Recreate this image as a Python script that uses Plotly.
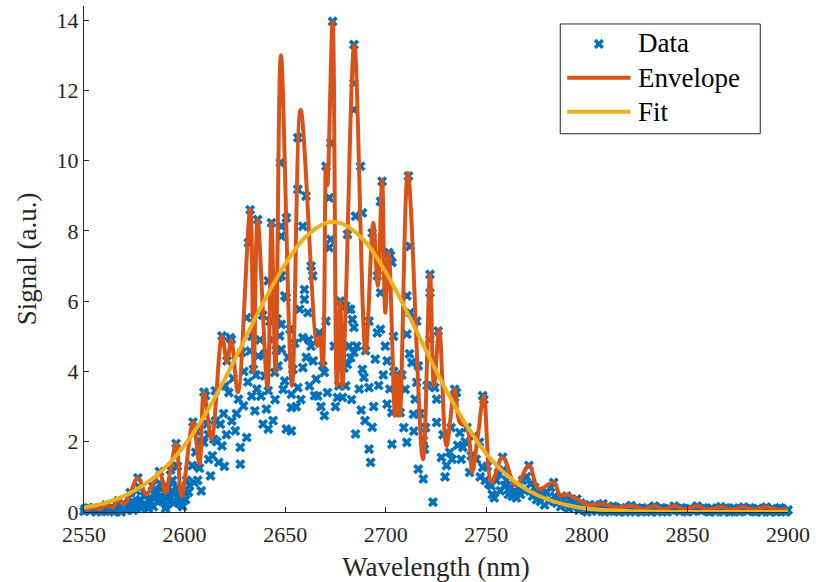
import plotly.graph_objects as go

# ---- measured spectrum: (wavelength nm, signal a.u.) ----
rise = [
    (2550, 0.02), (2550.5, 0.1), (2551, 0.05), (2552, 0.12), (2553, 0.03), (2554, 0.08),
    (2555, 0.12), (2556, 0.0), (2557, 0.06), (2558, 0.08), (2559, 0.02), (2560, 0.15),
    (2560.5, 0.02), (2561, 0.2), (2562, 0.05), (2562.5, 0.08), (2563, 0.1), (2564, 0.12),
    (2564.5, 0.04), (2565, 0.0), (2566, 0.25), (2566.5, 0.1), (2567, 0.32), (2568, 0.1),
    (2568.5, 0.0), (2569, 0.18), (2570, 0.22), (2570.5, 0.12), (2571, 0.05), (2572, 0.4),
    (2572.5, 0.2), (2573, 0.55), (2574, 0.3), (2574.5, 0.05), (2575, 0.15), (2576, 0.6),
    (2576.5, 0.3), (2576.8, 0.97), (2577.5, 0.7), (2578, 0.35), (2578.5, 0.1), (2579, 0.2),
    (2580, 0.45), (2580.5, 0.2), (2581, 0.5), (2582, 0.1), (2582.5, 0.35), (2583, 0.3),
    (2584, 0.75), (2584.5, 0.15), (2585, 0.4), (2585.5, 0.5), (2586, 0.6), (2586.5, 0.3),
    (2587.5, 1.15), (2588, 0.8), (2588.5, 0.45), (2589, 0.3), (2589.5, 0.7), (2590, 0.55),
    (2590.5, 0.1), (2591, 0.2), (2591.5, 0.4), (2592, 0.7), (2592.5, 0.3), (2593, 1.2),
    (2593.5, 0.6), (2594, 0.9), (2594.5, 0.25), (2595, 0.5), (2595.8, 1.95), (2596, 0.7),
    (2596.5, 1.3), (2597, 0.3), (2597.5, 0.45), (2598, 0.45), (2598.5, 0.2), (2599, 0.15),
    (2600, 0.6), (2600.5, 0.35), (2601, 0.9), (2602, 0.56), (2602.5, 0.75),
]

core = [
    (2603.8, 1.32), (2604.2, 2.56), (2604.7, 0.84), (2605.5, 1.7), (2606.0, 2.3),
    (2606.5, 0.9), (2607.4, 1.25), (2608.0, 2.0), (2608.3, 0.6), (2609.6, 1.98),
    (2609.6, 3.41), (2610.4, 3.31), (2611.2, 2.5), (2611.8, 2.2), (2612.0, 1.5),
    (2612.9, 1.03), (2613.8, 1.6), (2614.5, 2.07), (2615.3, 3.45), (2615.3, 2.59),
    (2616.0, 2.0), (2617.0, 1.41), (2617.8, 2.5), (2618.6, 1.88), (2618.6, 5.01),
    (2619.4, 2.8), (2619.8, 1.3), (2620.2, 3.59), (2620.8, 2.2), (2621.1, 4.3),
    (2622.0, 3.4), (2622.7, 4.96), (2623.2, 4.91), (2623.5, 2.59), (2624.2, 3.8),
    (2625.2, 2.31), (2625.8, 2.8), (2626.8, 3.21), (2627.7, 1.84), (2627.7, 1.36),
    (2628.4, 4.54), (2629.3, 3.02), (2629.5, 4.0), (2630.9, 2.12), (2630.9, 5.53),
    (2631.5, 3.7), (2631.7, 7.66), (2632.6, 8.6), (2632.6, 4.58), (2633.4, 3.3),
    (2633.5, 5.0), (2634.2, 4.06), (2635.0, 2.88), (2635.5, 3.9), (2636.0, 3.5),
    (2636.3, 8.32), (2636.6, 4.44), (2637.5, 4.9), (2638.0, 3.3), (2638.8, 5.6),
    (2639.0, 2.5), (2639.9, 3.87), (2640.0, 4.5), (2640.7, 2.93), (2641.6, 6.58),
    (2641.6, 3.45), (2641.6, 2.36), (2642.4, 5.43), (2643.2, 8.23), (2643.8, 4.9),
    (2644.0, 2.6), (2644.8, 3.97), (2645.0, 3.2), (2645.6, 4.6), (2646.0, 5.5),
    (2646.5, 6.67), (2646.5, 4.16), (2647.3, 5.01), (2647.6, 9.94), (2648.1, 8.13),
    (2648.1, 7.85), (2648.1, 6.72), (2648.1, 5.34), (2648.1, 4.63), (2649.0, 3.49),
    (2649.8, 6.15), (2649.8, 3.73), (2650.6, 8.37), (2650.6, 6.1), (2650.6, 2.36),
    (2651.5, 4.4), (2652.5, 5.2), (2653.1, 3.35), (2653.1, 2.97), (2653.1, 2.31),
    (2653.9, 4.06), (2654.8, 4.8), (2655.5, 3.0), (2656.3, 10.65), (2656.3, 9.18),
    (2656.3, 3.54), (2657.2, 5.77), (2657.8, 3.2), (2658.8, 8.13), (2658.8, 4.96),
    (2658.8, 4.11), (2659.6, 6.33), (2659.6, 6.05), (2660.4, 8.99), (2660.5, 4.4),
    (2661.3, 5.67), (2661.8, 4.9), (2662.1, 3.59), (2662.9, 7.0), (2662.9, 4.72),
    (2663.7, 6.72), (2664.0, 4.3), (2664.6, 3.31), (2665.4, 3.78), (2666.2, 3.3),
    (2667.0, 5.1), (2667.8, 3.0), (2668.7, 4.16), (2669.5, 3.97), (2669.5, 2.74),
    (2670.3, 9.84), (2670.3, 5.43), (2671.0, 3.4), (2671.9, 8.94), (2671.9, 7.52),
    (2672.7, 10.5), (2672.7, 7.76), (2673.6, 13.96), (2674.4, 4.72), (2675.0, 3.0),
    (2676.0, 3.26), (2676.7, 3.59), (2677.4, 6.0), (2677.9, 4.6), (2678.5, 3.26),
    (2679.3, 4.1), (2680.1, 5.86), (2680.1, 3.59), (2681.0, 7.9), (2681.0, 4.2),
    (2681.8, 5.77), (2681.8, 4.72), (2682.6, 5.77), (2682.6, 4.39), (2683.0, 3.2),
    (2683.4, 5.48), (2684.2, 13.3), (2684.2, 12.2), (2684.2, 11.45), (2684.2, 5.25),
    (2684.2, 4.54), (2685.0, 8.42), (2685.0, 2.22), (2685.6, 4.72), (2686.8, 3.5),
    (2687.5, 9.84), (2687.8, 2.9), (2688.4, 8.51), (2688.4, 4.06), (2689.2, 3.83),
    (2689.7, 2.6), (2690.0, 4.59), (2691.7, 5.43), (2691.7, 3.54), (2691.7, 1.79),
    (2692.5, 1.41), (2693.3, 7.94), (2693.3, 2.41), (2694.0, 3.0), (2694.8, 4.35),
    (2695.8, 6.72), (2695.8, 5.1), (2696.5, 3.6), (2697.4, 8.84), (2697.4, 6.24),
    (2697.4, 5.2), (2698.2, 9.41), (2698.8, 3.9), (2699.8, 4.72), (2700.7, 4.3),
    (2700.7, 3.07), (2701.5, 7.38), (2701.5, 6.43), (2702.0, 3.5), (2702.3, 7.3),
    (2703.1, 7.1), (2703.1, 2.83), (2703.1, 1.93), (2703.9, 5.0), (2704.0, 4.0),
    (2705.6, 3.9), (2706.0, 3.3), (2707.2, 2.83), (2708.0, 3.9), (2709.0, 2.4),
    (2709.7, 3.49), (2710.5, 6.15), (2710.5, 5.06), (2710.5, 1.98), (2711.3, 9.56),
    (2711.8, 4.5), (2712.1, 7.56), (2712.1, 5.67), (2713.0, 4.25), (2713.8, 2.78),
    (2714.0, 2.3), (2714.6, 3.21), (2715.4, 5.43), (2715.4, 3.69), (2716.2, 4.16),
    (2716.2, 1.22), (2717.0, 2.8), (2718.7, 2.03), (2718.7, 0.94), (2719.3, 1.79),
    (2719.8, 2.4), (2720.6, 3.6), (2722.0, 6.76), (2722.0, 6.24), (2722.0, 4.91),
    (2723.5, 0.28), (2724.4, 3.54), (2725.3, 3.21), (2725.3, 2.55), (2726.1, 5.15),
    (2727.7, 1.55), (2728.5, 2.2), (2729.5, 1.0), (2730.2, 1.32), (2731.8, 1.7),
    (2732.5, 2.4), (2733.0, 1.5), (2734.3, 3.49), (2734.3, 3.26), (2735.1, 3.4),
    (2735.8, 1.9), (2736.8, 2.26), (2737.5, 1.5), (2738.4, 1.84), (2739.5, 2.0),
    (2740.4, 2.4), (2741.7, 1.13), (2742.5, 1.6), (2744.1, 2.17), (2745.0, 1.5),
    (2746.6, 1.98), (2747.0, 1.0), (2748.2, 3.31), (2748.2, 1.27), (2748.8, 3.2),
    (2749.5, 0.9), (2750.5, 1.3), (2751.2, 0.8),
]

tail = [
    (2752.4, 0.75), (2753, 0.5), (2754, 0.4), (2755, 0.9), (2756, 1.1), (2757, 0.6),
    (2758.1, 1.56), (2758.5, 1.2), (2759, 0.75), (2760, 0.9), (2761, 0.5), (2762, 0.7),
    (2763, 0.45), (2764, 0.6), (2765, 0.4), (2766, 0.7), (2767, 0.5), (2768, 0.9),
    (2769, 0.6), (2770, 1.0), (2771.2, 1.32), (2772, 0.8), (2773, 0.45), (2774, 0.7),
    (2775, 0.35), (2776, 0.55), (2777, 0.3), (2778, 0.5), (2779, 0.2), (2780, 0.55),
    (2781, 0.3), (2782, 0.7), (2783.5, 0.84), (2784, 0.45), (2785, 0.25), (2786, 0.4),
    (2787, 0.15), (2788, 0.35), (2789, 0.2), (2790, 0.45), (2791, 0.1), (2792, 0.3),
    (2793, 0.15), (2794, 0.25), (2795, 0.37), (2796, 0.05), (2797, 0.25), (2798, 0.1),
    (2799, 0.2), (2800, 0.0), (2801, 0.18), (2802, 0.05), (2803, 0.12), (2804, 0.2),
    (2805, 0.02), (2806, 0.15), (2807, 0.08), (2808, 0.23), (2809, 0.0), (2810, 0.12),
    (2811, 0.02), (2812, 0.05), (2813, 0.16), (2814, 0.14), (2815, 0.03), (2816, 0.0),
    (2817, 0.12), (2818, 0.1), (2819, 0.0), (2820, 0.04), (2821, 0.13), (2822, 0.18),
    (2823, 0.05), (2824, 0.0), (2825, 0.12), (2826, 0.1), (2827, 0.0), (2828, 0.03),
    (2829, 0.08), (2830, 0.12), (2831, 0.04), (2832, 0.0), (2833, 0.1), (2833.6, 0.17),
    (2835, 0.0), (2836, 0.05), (2837, 0.12), (2838, 0.1), (2839, 0.03), (2840, 0.0),
    (2841, 0.1), (2842, 0.08), (2843.5, 0.17), (2844.5, 0.05), (2846, 0.02), (2847, 0.12),
    (2848, 0.1), (2849, 0.03), (2850, 0.0), (2851, 0.1), (2852, 0.08), (2853, 0.02),
    (2854.8, 0.17), (2856, 0.06), (2857, 0.03), (2858, 0.12), (2859, 0.1), (2860, 0.02),
    (2861, 0.0), (2862, 0.11), (2863, 0.07), (2864, 0.0), (2865, 0.1), (2866.6, 0.15),
    (2867, 0.05), (2868, 0.0), (2869, 0.12), (2870, 0.1), (2871, 0.0), (2872, 0.02),
    (2873, 0.11), (2874, 0.08), (2875, 0.03), (2876, 0.0), (2877, 0.1), (2877.9, 0.14),
    (2879, 0.05), (2880, 0.02), (2881, 0.12), (2882, 0.09), (2883, 0.02), (2884, 0.0),
    (2885, 0.1), (2886, 0.06), (2887, 0.0), (2888, 0.1), (2889.2, 0.14), (2890, 0.04),
    (2891, 0.0), (2892, 0.1), (2893, 0.07), (2894, 0.0), (2895, 0.02), (2896, 0.12),
    (2897, 0.1), (2898, 0.03), (2899, 0.0), (2900, 0.06),
]

# ---- peak envelope (nm, a.u.) ----
envelope = [
    (2550.5, 0.04), (2555, 0.12), (2558, 0.08), (2561, 0.2), (2564, 0.12), (2567, 0.32),
    (2570, 0.22), (2573, 0.55), (2576.8, 0.97), (2580.9, 0.5), (2584, 0.75), (2587.5, 1.15),
    (2590.5, 0.55), (2593, 1.2), (2595.8, 1.95), (2598.5, 0.45), (2604.2, 2.56),
    (2607.4, 1.36), (2609.6, 3.41), (2613.4, 2.07), (2618.6, 5.01), (2621.1, 4.26),
    (2623.2, 4.91), (2626.5, 3.41), (2632.6, 8.6), (2634.4, 4.0), (2636.3, 8.32),
    (2641.2, 3.55), (2643.2, 8.23), (2645.2, 4.0), (2647.9, 13.0), (2653.4, 3.59),
    (2657.7, 11.45), (2665.9, 4.72), (2667.2, 5.0), (2668.7, 4.16), (2670.3, 9.84),
    (2671.0, 9.3), (2673.6, 13.96), (2675.7, 3.59), (2677.4, 6.0), (2678.5, 3.55),
    (2680.1, 5.86), (2684.4, 13.3), (2690.0, 4.54), (2693.8, 8.23), (2696.1, 6.43),
    (2698.2, 9.46), (2699.8, 5.67), (2701.5, 7.38), (2704.6, 2.74), (2705.6, 3.9),
    (2707.0, 2.74), (2711.0, 9.65), (2718.5, 1.5), (2722.0, 6.76), (2724.0, 3.59),
    (2726.6, 5.2), (2730.2, 1.88), (2734.3, 3.49), (2736.8, 2.55), (2740.4, 2.4),
    (2743.0, 1.13), (2745.8, 2.17), (2748.8, 3.31), (2752.6, 0.84), (2758.1, 1.56),
    (2764.7, 0.75), (2771.2, 1.32), (2776.1, 0.65), (2783.5, 0.84), (2786.8, 0.46),
    (2790, 0.5), (2795, 0.37), (2801, 0.2), (2808, 0.23), (2815, 0.12), (2822, 0.18),
    (2828, 0.08), (2833.6, 0.17), (2838, 0.07), (2843.5, 0.17), (2849, 0.07),
    (2854.8, 0.17), (2860, 0.07), (2866.6, 0.15), (2872, 0.07), (2877.9, 0.14),
    (2883, 0.07), (2889.2, 0.14), (2894, 0.07), (2900, 0.08),
]

# ---- Gaussian fit curve (nm, a.u.) ----
fit = [
    (2550, 0.13), (2560, 0.25), (2570, 0.46), (2580, 0.78), (2590, 1.25), (2600, 1.9),
    (2610, 2.75), (2620, 3.78), (2630, 4.92), (2640, 6.05), (2650, 7.05), (2660, 7.82),
    (2670, 8.22), (2675, 8.25), (2680, 8.16), (2690, 7.68), (2700, 6.83), (2710, 5.76),
    (2720, 4.6), (2730, 3.47), (2740, 2.48), (2750, 1.66), (2760, 1.06), (2770, 0.64),
    (2780, 0.37), (2790, 0.2), (2800, 0.1), (2820, 0.025), (2850, 0.0), (2900, 0.0),
]

x_ticks = [2550, 2600, 2650, 2700, 2750, 2800, 2850, 2900]
y_ticks = [0, 2, 4, 6, 8, 10, 12, 14]

BLUE, ORANGE, YELLOW, INK = "#0072BD", "#D95319", "#EDB120", "#262626"
FONT = "Liberation Serif"
MARKER = dict(symbol="x", size=9, color=BLUE, line=dict(width=0))

data = rise + core + tail
dx, dy = zip(*data)
ex, ey = zip(*envelope)
fx, fy = zip(*fit)

fig = go.Figure()
fig.add_trace(go.Scatter(
    x=dx, y=dy, mode="markers", cliponaxis=False, showlegend=False, marker=MARKER,
))
fig.add_trace(go.Scatter(
    x=ex, y=ey, mode="lines", showlegend=False,
    line=dict(color=ORANGE, width=4, shape="spline", smoothing=1.0),
))
fig.add_trace(go.Scatter(
    x=fx, y=fy, mode="lines", showlegend=False,
    line=dict(color=YELLOW, width=4, shape="spline", smoothing=1.0),
))

# legend, drawn in plot-area (paper) coordinates
L, T, W, H = 84, 6, 711, 507
def px(u):
    return (u - L) / W
def py(v):
    return (T + H - v) / H

shapes = [
    dict(type="rect", xref="paper", yref="paper", x0=px(565), x1=px(767), y0=py(134), y1=py(24),
         line=dict(color=INK, width=1), fillcolor="white", layer="below"),
    dict(type="line", xref="paper", yref="paper", x0=px(572), x1=px(636), y0=py(78), y1=py(78),
         line=dict(color=ORANGE, width=4), layer="above"),
    dict(type="line", xref="paper", yref="paper", x0=px(572), x1=px(636), y0=py(112), y1=py(112),
         line=dict(color=YELLOW, width=4), layer="above"),
]
legend_rows = [("Data", 43), ("Envelope", 78), ("Fit", 112)]
annotations = [
    dict(xref="paper", yref="paper", x=px(641), y=py(yy), text=name, showarrow=False,
         xanchor="left", yanchor="middle", font=dict(family=FONT, size=27, color="black"))
    for name, yy in legend_rows
]

fig.add_trace(go.Scatter(
    x=[px(604)], y=[py(44)], xaxis="x2", yaxis="y2", mode="markers", cliponaxis=False,
    showlegend=False, marker=MARKER,
))

axis_common = dict(
    showline=True, linecolor=INK, linewidth=1, ticks="inside", ticklen=5, tickwidth=1,
    tickcolor=INK, showgrid=False, zeroline=False, mirror=False,
    tickfont=dict(family=FONT, size=22, color=INK),
)

fig.update_layout(
    width=816, height=582,
    margin=dict(l=L, r=816 - L - W, t=T, b=582 - T - H),
    paper_bgcolor="white", plot_bgcolor="white",
    showlegend=False,
    xaxis=dict(range=[2550, 2900], tickvals=x_ticks, ticktext=[str(v) for v in x_ticks],
               ticklabeloverflow="allow", ticklabelstandoff=3,
               title=dict(text="Wavelength (nm)", font=dict(family=FONT, size=27, color=INK), standoff=10),
               **axis_common),
    yaxis=dict(range=[0, 14.4], tickvals=y_ticks, ticktext=[str(v) for v in y_ticks],
               title=dict(text="Signal (a.u.)", font=dict(family=FONT, size=27, color=INK), standoff=12),
               **axis_common),
    xaxis2=dict(overlaying="x", range=[0, 1], visible=False),
    yaxis2=dict(overlaying="y", range=[0, 1], visible=False),
    shapes=shapes, annotations=annotations,
)

fig.write_html("out.html")
